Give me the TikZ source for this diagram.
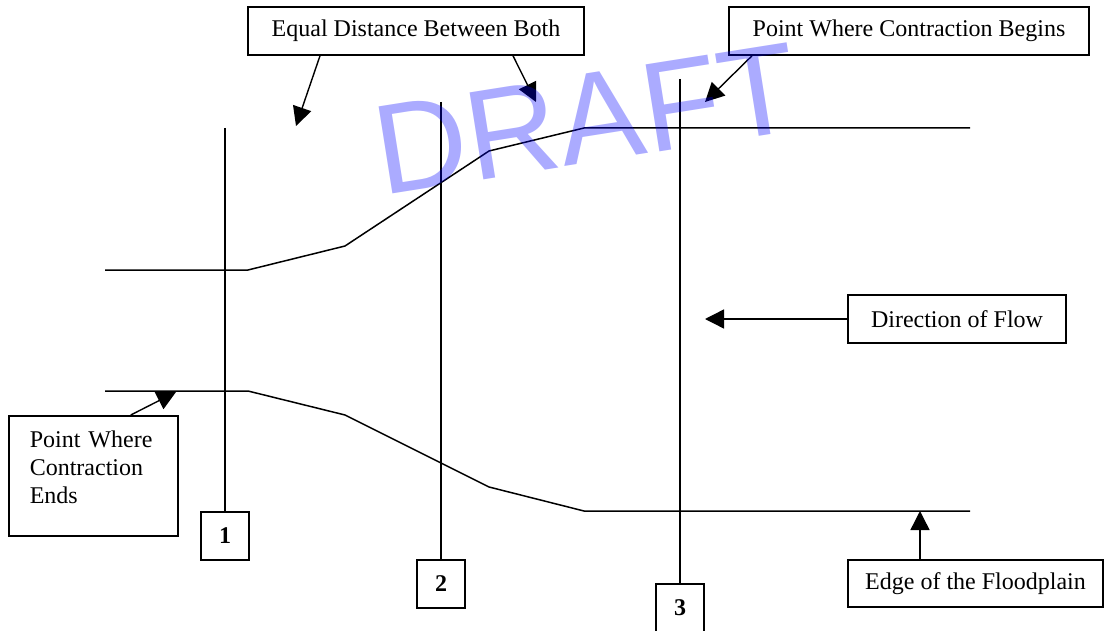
\documentclass[tikz,border=0pt]{standalone}
\usepackage{fontspec}
\setmainfont{Liberation Serif}
\newfontfamily\draftfont[Kerning=Off]{Liberation Sans}
\usetikzlibrary{arrows.meta,calc}

\begin{document}
\begin{tikzpicture}[x=0.5pt,y=-0.5pt,
  bank/.style={line width=0.75pt},
  secline/.style={line width=0.75pt},
  callout/.style={draw,line width=0.8pt,inner sep=0pt,font=\fontsize{12}{14}\selectfont},
  numbox/.style={draw,line width=0.8pt,minimum size=24pt,inner sep=0pt,font=\bfseries\fontsize{12}{14}\selectfont},
  arr/.style={line width=0.7pt,-{Triangle[length=9.5pt,width=9.5pt]}}]
\useasboundingbox (0,0) rectangle (1104,631);
% banks of the reach
\draw[bank] (105,270) -- (248,270) -- (345,246) -- (489,151) -- (584,128) -- (970,128);
\draw[bank] (105,391) -- (248,391) -- (345,415) -- (489,487) -- (584,511) -- (970,511);
% cross sections
\foreach \xx/\ytop/\ybox/\nn in {225/128/536/1,441/102/584/2,680/79/608/3}{
	\node[numbox] (sec\nn) at (\xx,\ybox) {\nn};
	\coordinate (top\nn) at (\xx,\ytop);
	\draw[secline] (top\nn) -- (sec\nn.north);
}
% callouts
\node[callout,minimum width=168pt,minimum height=24pt] (eqbox) at (416,31) {Equal Distance Between Both};
\node[callout,minimum width=180pt,minimum height=24pt] (beginbox) at (909,31) {Point Where Contraction Begins};
\node[callout,minimum width=109pt,minimum height=24pt] (flowbox) at (957,319) {Direction of Flow};
\node[callout,minimum width=127.5pt,minimum height=23.5pt] (edgebox) at (975.5,583.5) {Edge of the Floodplain};
\node[callout,anchor=north west,text width=63.5pt,inner xsep=10.5pt,align=left,
  text height=16pt,text depth=44pt] (endsbox) at (8,415) {Point Where\\Contraction\\Ends};
\coordinate (eqtipL) at (296,126);
\coordinate (eqtipR) at (536,102);
\coordinate (begintip) at (705,102);
\coordinate (flowtip) at (705,319);
\coordinate (edgetip) at (920,511);
\coordinate (endstip) at (176,392);
\draw[arr] ([xshift=-48pt]eqbox.south) -- (eqtipL);
\draw[arr] ([xshift=48.5pt]eqbox.south) -- (eqtipR);
\draw[arr] ([xshift=-78.5pt]beginbox.south) -- (begintip);
\draw[arr] (flowbox.west) -- (flowtip);
\draw[arr] ([xshift=-27.75pt]edgebox.north) -- (edgetip);
\draw[arr] ([xshift=18.75pt]endsbox.north) -- (endstip);
% watermark
\node[rotate=9,inner sep=0pt,text=blue,text opacity=0.33,
  font=\draftfont\fontsize{64}{64}\selectfont] (draft) at (586,119) {DRAFT};
\end{tikzpicture}
\end{document}
